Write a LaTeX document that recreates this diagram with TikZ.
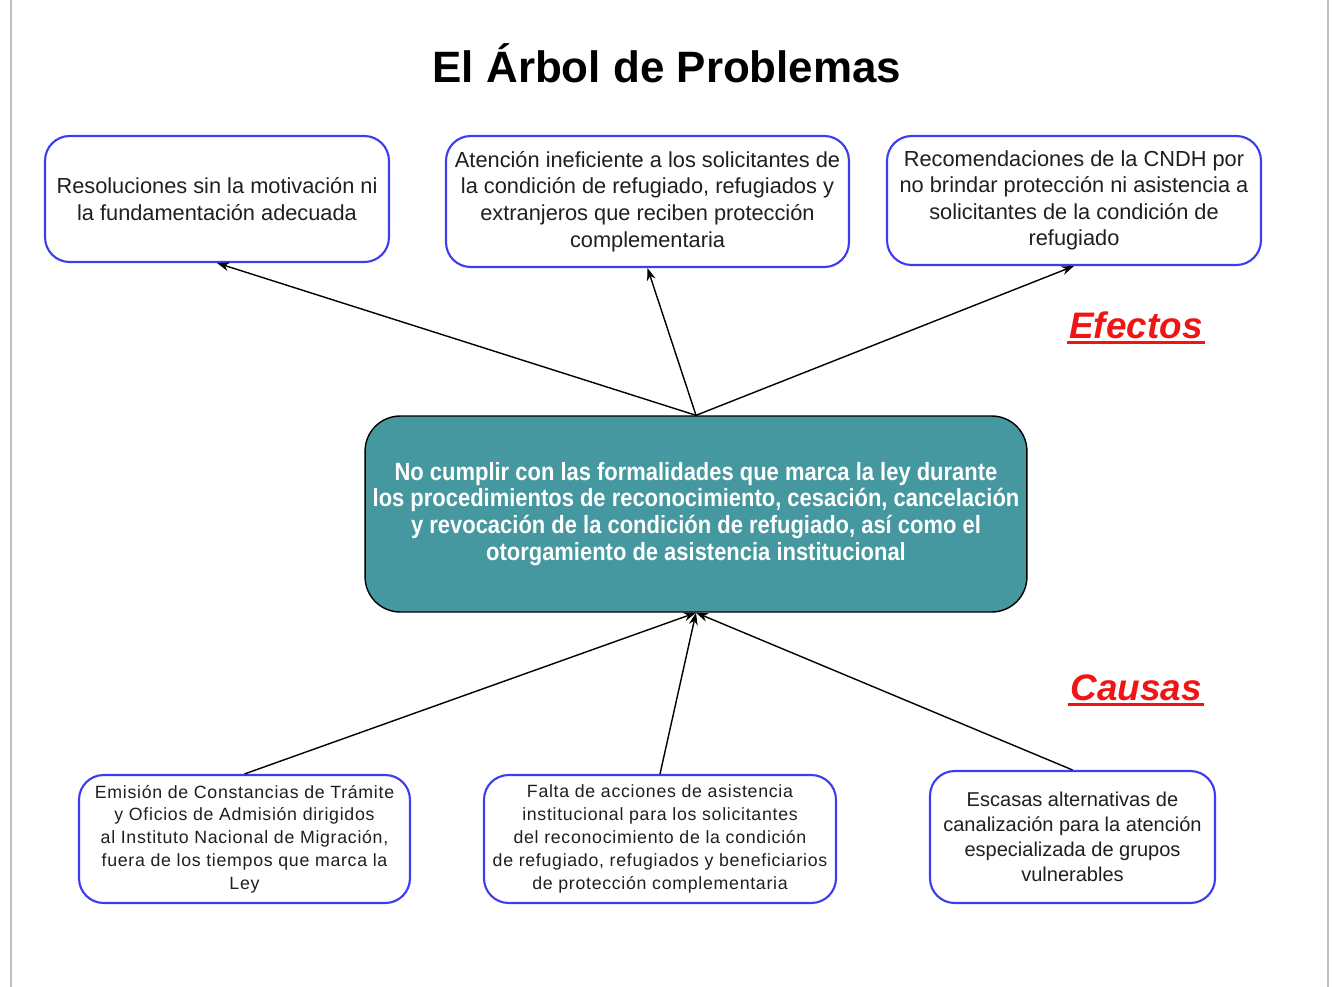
\documentclass[tikz,border=0pt]{standalone}
\usepackage{fontspec}
\setmainfont{Liberation Sans}
\newfontfamily\narrowfont[FakeStretch=0.88]{Liberation Sans}
\newfontfamily\spacedfont[LetterSpace=4]{Liberation Sans}
\usetikzlibrary{arrows.meta}
\definecolor{boxblue}{RGB}{60,60,240}
\definecolor{teal1}{RGB}{69,152,159}
\definecolor{efred}{RGB}{240,20,20}
\begin{document}
\begin{tikzpicture}[x=0.02cm,y=-0.02cm,
  ebox/.style={draw=boxblue,line width=1.2pt,rounded corners=14pt,fill=white,align=center,inner sep=2pt,
    font=\fontsize{12.4}{15.1}\selectfont,text=black!88},
  cbox/.style={ebox,font=\spacedfont\fontsize{10.1}{13}\selectfont},
  conn/.style={line width=0.8pt,-{Stealth[length=7pt,width=5pt]}},
  lab/.style={font=\fontsize{21}{25}\bfseries\itshape\selectfont,text=efred,inner sep=1pt},
  uline/.style={draw=efred,line width=1.7pt}]
\useasboundingbox (0,0) rectangle (1332,987);
\draw[black!25,line width=0.6pt] (11,0) -- (11,987);
\draw[black!25,line width=0.6pt] (1328,0) -- (1328,987);

\node[font=\fontsize{25}{30}\bfseries\selectfont] (title) at (667,63) {El Árbol de Problemas};

\node[ebox,minimum width=6.88cm,minimum height=2.52cm] (e1) at (217,199)
  {Resoluciones sin la motivación ni\\la fundamentación adecuada};
\node[ebox,minimum width=8.06cm,minimum height=2.62cm] (e2) at (647.5,201.5)
  {Atención ineficiente a los solicitantes de\\la condición de refugiado, refugiados y\\extranjeros que reciben protección\\complementaria};
\node[ebox,minimum width=7.48cm,minimum height=2.58cm] (e3) at (1074,200.5)
  {Recomendaciones de la CNDH por\\no brindar protección ni asistencia a\\solicitantes de la condición de\\refugiado};

\node[draw=black,line width=0.8pt,fill=teal1,rounded corners=20pt,text=white,align=center,
  minimum width=13.24cm,minimum height=3.92cm,
  font=\narrowfont\bfseries\fontsize{14.2}{15.3}\selectfont] (cent) at (696,514)
  {No cumplir con las formalidades que marca la ley durante\\los procedimientos de reconocimiento, cesación, cancelación\\y revocación de la condición de refugiado, así como el\\otorgamiento de asistencia institucional};

\node[cbox,minimum width=6.62cm,minimum height=2.56cm] (c1) at (244.5,839)
  {Emisión de Constancias de Trámite\\y Oficios de Admisión dirigidos\\al Instituto Nacional de Migración,\\fuera de los tiempos que marca la\\Ley};
\node[cbox,minimum width=7.04cm,minimum height=2.56cm] (c2) at (660,839)
  {Falta de acciones de asistencia\\institucional para los solicitantes\\del reconocimiento de la condición\\de refugiado, refugiados y beneficiarios\\de protección complementaria};
\node[ebox,minimum width=5.7cm,minimum height=2.64cm,font=\fontsize{11.4}{14.2}\selectfont] (c3) at (1072.5,837)
  {Escasas alternativas de\\canalización para la atención\\especializada de grupos\\vulnerables};

\node[lab] (ef) at (1136,325) {Efectos};
\node[lab] (ca) at (1136,688) {Causas};
\draw[uline] ([yshift=-1pt]ef.south west) -- ([yshift=-1pt]ef.south east);
\draw[uline] ([yshift=-1pt]ca.south west) -- ([yshift=-1pt]ca.south east);

\draw[conn] (cent.north) -- (e1.south);
\draw[conn] (cent.north) -- (e2.south);
\draw[conn] (cent.north) -- (e3.south);
\draw[conn] (c1.north) -- (cent.south);
\draw[conn] (c2.north) -- (cent.south);
\draw[conn] (c3.north) -- (cent.south);
\end{tikzpicture}
\end{document}
